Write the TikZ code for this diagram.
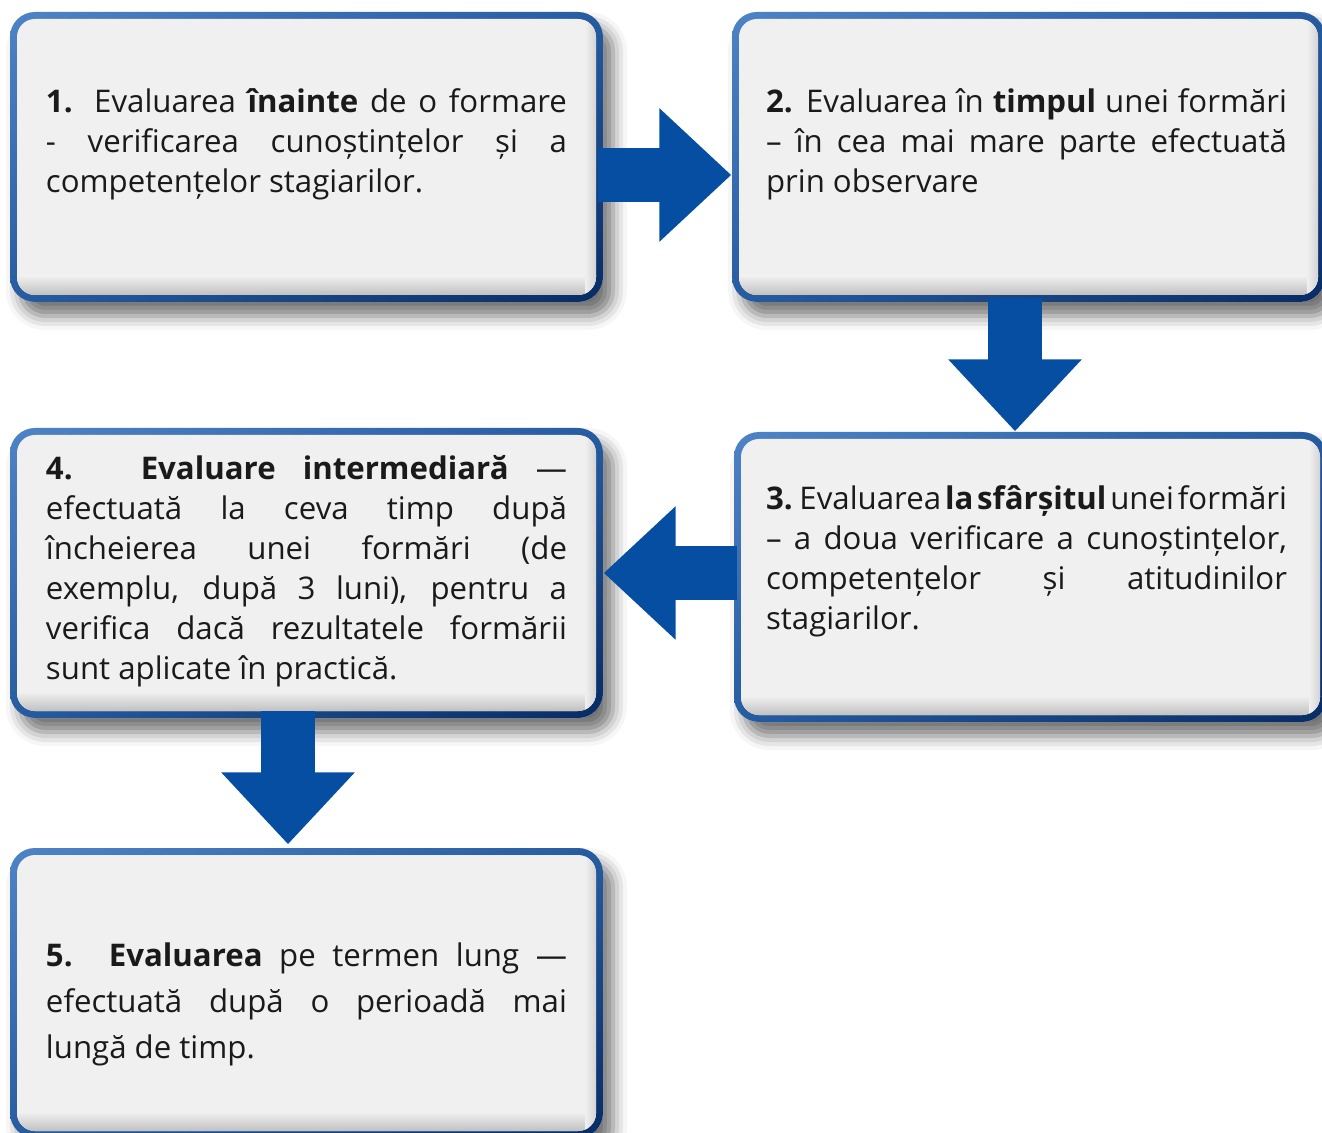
\documentclass[tikz,border=0pt]{standalone}
\usepackage{fontspec}
\setmainfont{Open Sans}
\usepackage{tikz}
\usetikzlibrary{calc, positioning, shapes.arrows, shadings, shadows.blur}
\usepackage{xcolor}
\definecolor{boxgray}{RGB}{240, 240, 240}
\definecolor{innershade}{RGB}{192, 192, 192}
\definecolor{rimlight}{RGB}{78, 132, 198}
\definecolor{rimmid}{RGB}{38, 92, 160}
\definecolor{rimdark}{RGB}{8, 44, 100}
\definecolor{arrowblue}{RGB}{5, 78, 162}
\definecolor{inktext}{RGB}{26, 26, 26}
\tolerance=10000
\hbadness=10000
\newcommand{\tightwords}[1]{{\spaceskip=0.12em plus 0.3em minus 0.02em #1}}

\tikzset{
  evalbox/.style={rounded corners=12.5pt, minimum width=296.5pt, minimum height=145pt,
    inner sep=0pt, fill=boxgray,
    blur shadow={shadow xshift=5pt, shadow yshift=-7pt, shadow blur radius=7pt, shadow opacity=55},
    path picture={
      \shade[upper left=rimlight, upper right=rimmid, lower left=rimmid, lower right=rimdark]
        (path picture bounding box.south west) rectangle (path picture bounding box.north east);
      \begin{scope}
        \clip[rounded corners=9pt] ([shift={(3.5pt,3.5pt)}]path picture bounding box.south west)
          rectangle ([shift={(-3.5pt,-3.5pt)}]path picture bounding box.north east);
        \fill[boxgray] (path picture bounding box.south west) rectangle (path picture bounding box.north east);
        % inner shadow along bottom and right edge
        \shade[sharp corners, top color=boxgray, bottom color=innershade]
          ([shift={(0pt,3.5pt)}]path picture bounding box.south west)
          rectangle ([shift={(0pt,13pt)}]path picture bounding box.south east);
        \shade[sharp corners, left color=boxgray, right color=innershade!60!boxgray]
          ([shift={(-9pt,0pt)}]path picture bounding box.south east)
          rectangle ([shift={(-3.5pt,0pt)}]path picture bounding box.north east);
      \end{scope}
    }},
  boxtext/.style={text width=260.5pt, align=justify, inner sep=0pt, anchor=base west,
    text=inktext, font=\fontsize{15.6}{20}\selectfont},
  blockarrow/.style={single arrow, fill=arrowblue, inner sep=13.25pt, text height=0pt,
    text depth=0pt, minimum height=66.5pt, single arrow head extend=20pt,
    single arrow tip angle=86},
}

\begin{document}
\begin{tikzpicture}[x=0.5pt, y=-0.5pt]
  \useasboundingbox (0,0) rectangle (1322,1133);

  % Boxes
  \node[evalbox] (b1) at (306.5,157) {};
  \node[evalbox] (b2) at (1028.5,157) {};
  \node[evalbox] (b3) at (1030.5,577) {};
  \node[evalbox] (b4) at (306.5,573) {};
  \node[evalbox] (b5) at (306.5,993) {};

  % Block arrows between the steps
  \node[blockarrow, anchor=tip] (a12) at ([shift={(0,18)}]b2.west) {};
  \node[blockarrow, shape border rotate=270, anchor=tip] (a23) at ([shift={(-15.5,0)}]b3.north) {};
  \node[blockarrow, shape border rotate=180, anchor=tip] (a34) at (b4.east) {};
  \node[blockarrow, shape border rotate=270, anchor=tip] (a45) at ([shift={(-18.5,-3)}]b5.north) {};

  % Texts
  \node[boxtext] (t1) at ([shift={(36,101)}]b1.north west)
    {\textbf{1.} Evaluarea \textbf{înainte} de o formare\linebreak
     - verificarea cunoștințelor și a\linebreak
     competențelor stagiarilor.};
  \node[boxtext] (t2) at ([shift={(34,101)}]b2.north west)
    {\textbf{2.} Evaluarea în \textbf{timpul} unei formări\linebreak
     – în cea mai mare parte efectuată\linebreak
     prin observare};
  \node[boxtext] (t3) at ([shift={(32,78)}]b3.north west)
    {\tightwords{\textbf{3.} Evaluarea \textbf{la sfârșitul} unei formări}\linebreak
     – a doua verificare a cunoștințelor,\linebreak
     competențelor și atitudinilor\linebreak
     stagiarilor.};
  \node[boxtext] (t4) at ([shift={(36,52)}]b4.north west)
    {\textbf{4. Evaluare intermediară} —\linebreak
     efectuată la ceva timp după\linebreak
     încheierea unei formări (de\linebreak
     exemplu, după 3 luni), pentru a\linebreak
     verifica dacă rezultatele formării\linebreak
     sunt aplicate în practică.};
  \node[boxtext, font=\fontsize{15.6}{23}\selectfont] (t5) at ([shift={(36,119)}]b5.north west)
    {\textbf{5. Evaluarea} pe termen lung —\linebreak
     efectuată după o perioadă mai\linebreak
     lungă de timp.};
\end{tikzpicture}
\end{document}
